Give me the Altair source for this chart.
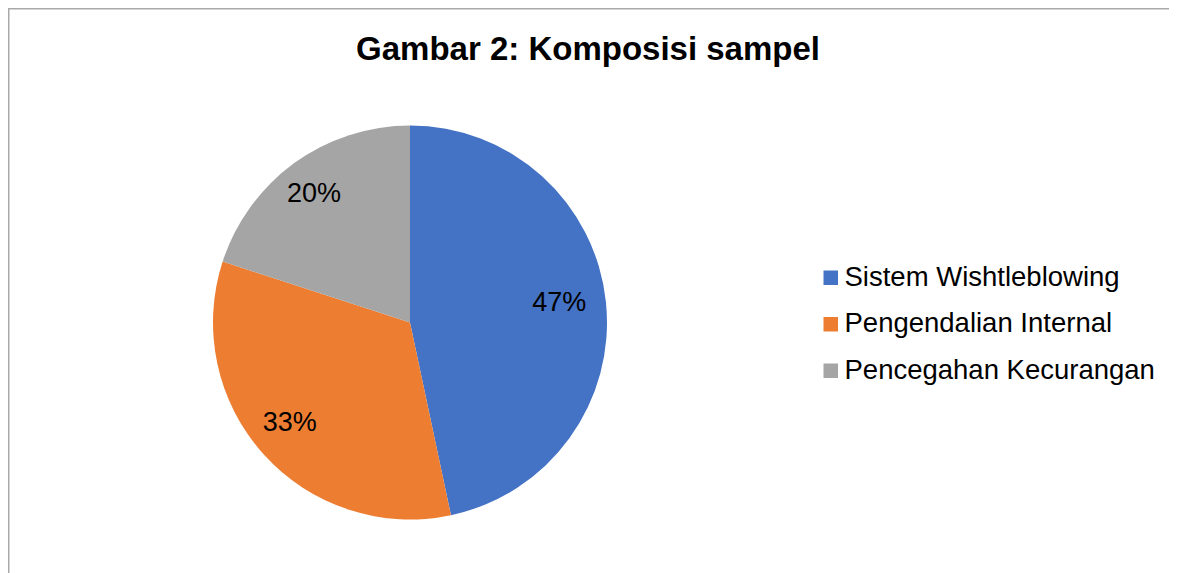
import altair as alt
import pandas as pd

categories = ["Sistem Wishtleblowing", "Pengendalian Internal", "Pencegahan Kecurangan"]
counts = [7, 5, 3]
labels = ["47%", "33%", "20%"]
colors = ["#4472C4", "#ED7D31", "#A5A5A5"]
title_text = "Gambar 2: Komposisi sampel"

df = pd.DataFrame({"kategori": categories, "n": counts, "label": labels,
                   "urut": list(range(len(categories)))})

FONT = "Liberation Sans"
W, H = 1161, 565
CX, CY = 402, 314.5
FRAME = "#A9A9A9"

base = alt.Chart(df).encode(
    theta=alt.Theta("n:Q", stack=True),
    order=alt.Order("urut:O"),
    x=alt.value(CX),
    y=alt.value(CY),
)

pie = base.mark_arc(radius=197, strokeWidth=0).encode(
    color=alt.Color(
        "kategori:N",
        sort=categories,
        scale=alt.Scale(domain=categories, range=colors),
        legend=alt.Legend(
            title=None,
            orient="none",
            legendX=809,
            legendY=256,
            symbolType="square",
            symbolSize=210,
            symbolStrokeWidth=0,
            labelFont=FONT,
            labelFontSize=27.5,
            labelColor="#000000",
            labelOffset=0,
            rowPadding=17.5,
            padding=0,
            labelLimit=400,
        ),
    )
)

text = base.mark_text(radius=155, font=FONT, fontSize=27, color="#000000",
                      baseline="middle", align="center", dx=-5, dy=-3).encode(text="label:N")

title = alt.Chart(pd.DataFrame({"t": [title_text]})).mark_text(
    font=FONT, fontSize=33, fontWeight="bold", color="#000000",
    align="center", baseline="alphabetic"
).encode(text="t:N", x=alt.value(580), y=alt.value(52))

frame_src = pd.DataFrame({"edge": ["frame"]})
top_edge = alt.Chart(frame_src).mark_rule(color=FRAME, strokeWidth=1.5).encode(
    x=alt.value(0), x2=alt.value(W), y=alt.value(0.75)
)
left_edge = alt.Chart(frame_src).mark_rule(color=FRAME, strokeWidth=1.5).encode(
    x=alt.value(0.75), y=alt.value(0), y2=alt.value(H)
)

chart = alt.layer(top_edge, left_edge, pie, text, title).properties(
    width=W, height=H, padding=0, autosize="none"
).configure_view(stroke=None)

chart.save("out.html", embed_options={"renderer": "svg", "actions": False})
